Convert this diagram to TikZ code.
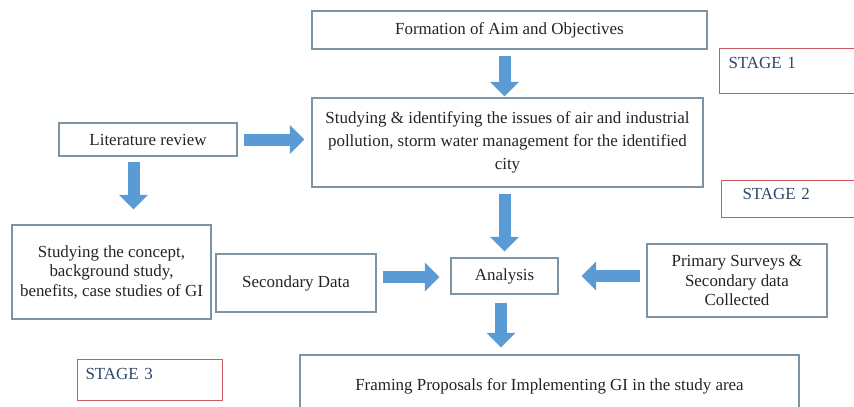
\documentclass[tikz,border=0pt]{standalone}
\usepackage{fontspec}
\setmainfont{Liberation Serif}
\usetikzlibrary{calc,arrows.meta}
\definecolor{boxline}{RGB}{125,148,165}
\definecolor{arrowblue}{RGB}{91,155,213}
\definecolor{stagered}{RGB}{205,90,95}
\definecolor{stagetext}{RGB}{45,70,105}
\definecolor{bodytext}{RGB}{35,35,35}
\tikzset{
	box/.style={draw=boxline, line width=0.8pt, align=center, text=bodytext, inner sep=0pt},
	stagebox/.style={draw=stagered, line width=0.8pt, align=left, text=stagetext, inner ysep=0pt, anchor=north west},
	blockarrow/.style={arrowblue, line width=9pt, -{Triangle[length=11pt,width=21pt]}}
}

\begin{document}
\begin{tikzpicture}[x=0.75pt, y=-0.75pt, every node/.style={font=\fontsize{12.7}{14.6}\selectfont}]
			\path[use as bounding box, clip] (0,0) rectangle (854,407);
			% stage 1
			\node[box, minimum width=296.25pt, minimum height=28.5pt] (aim) at (509.5,30) {Formation of Aim and Objectives};
			\node[box, minimum width=293.25pt, minimum height=66.75pt, font=\fontsize{12.7}{17}\selectfont] (study) at (507.5,142.5) {Studying \& identifying the issues of air and industrial\\pollution, storm water management for the identified\\city};
			\node[box, minimum width=133.5pt, minimum height=24.75pt] (lit) at (148,139.5) {Literature review};
			% stage 2
			\node[box, minimum width=149.25pt, minimum height=70.5pt] (concept) at (111.5,272) {Studying the concept,\\background study,\\benefits, case studies of GI};
			\node[box, minimum width=120pt, minimum height=43.5pt] (secdata) at (296,283) {Secondary Data};
			\node[box, minimum width=80.25pt, minimum height=27pt] (analysis) at (504.5,276) {Analysis};
			\node[box, minimum width=135pt, minimum height=54.75pt] (primary) at (737,280.5) {Primary Surveys \&\\Secondary data\\Collected};
			% stage 3
			\node[box, minimum width=374.25pt, minimum height=46.5pt] (framing) at (549.5,386) {Framing Proposals for Implementing GI in the study area};
			% stage labels
			\node[stagebox, inner xsep=6.75pt, text width=99pt, text height=14.7pt, text depth=19pt] (stageone) at (719,48) {STAGE 1};
			\node[stagebox, inner xsep=15.75pt, text width=81pt, text height=13.9pt, text depth=13.85pt] (stagetwo) at (721,180) {STAGE 2};
			\node[stagebox, inner xsep=6pt, text width=96.75pt, text height=14.7pt, text depth=16pt] (stagethree) at (77,359) {STAGE 3};
			% arrows
			\draw[blockarrow] ($(aim.south -| analysis)+(0,6)$) -- ($(study.north -| analysis)+(0,-1)$);
			\draw[blockarrow] ($(lit.east)+(6,0)$) -- ($(study.west |- lit.east)+(-7,0)$);
			\draw[blockarrow] ($(lit.south)+(-14.5,5)$) -- ($(concept.north)+(22,-15)$);
			\draw[blockarrow] ($(study.south -| analysis)+(0,6)$) -- ($(analysis.north)+(0,-6)$);
			\draw[blockarrow] ($(secdata.east |- analysis)+(6,1)$) -- ($(analysis.west)+(-11,1)$);
			\draw[blockarrow] ($(primary.west |- analysis)+(-6,0)$) -- ($(analysis.east)+(23,0)$);
			\draw[blockarrow] ($(analysis.south)+(-3.5,8)$) -- ($(framing.north)+(-48.5,-7)$);
		\end{tikzpicture}
\end{document}
